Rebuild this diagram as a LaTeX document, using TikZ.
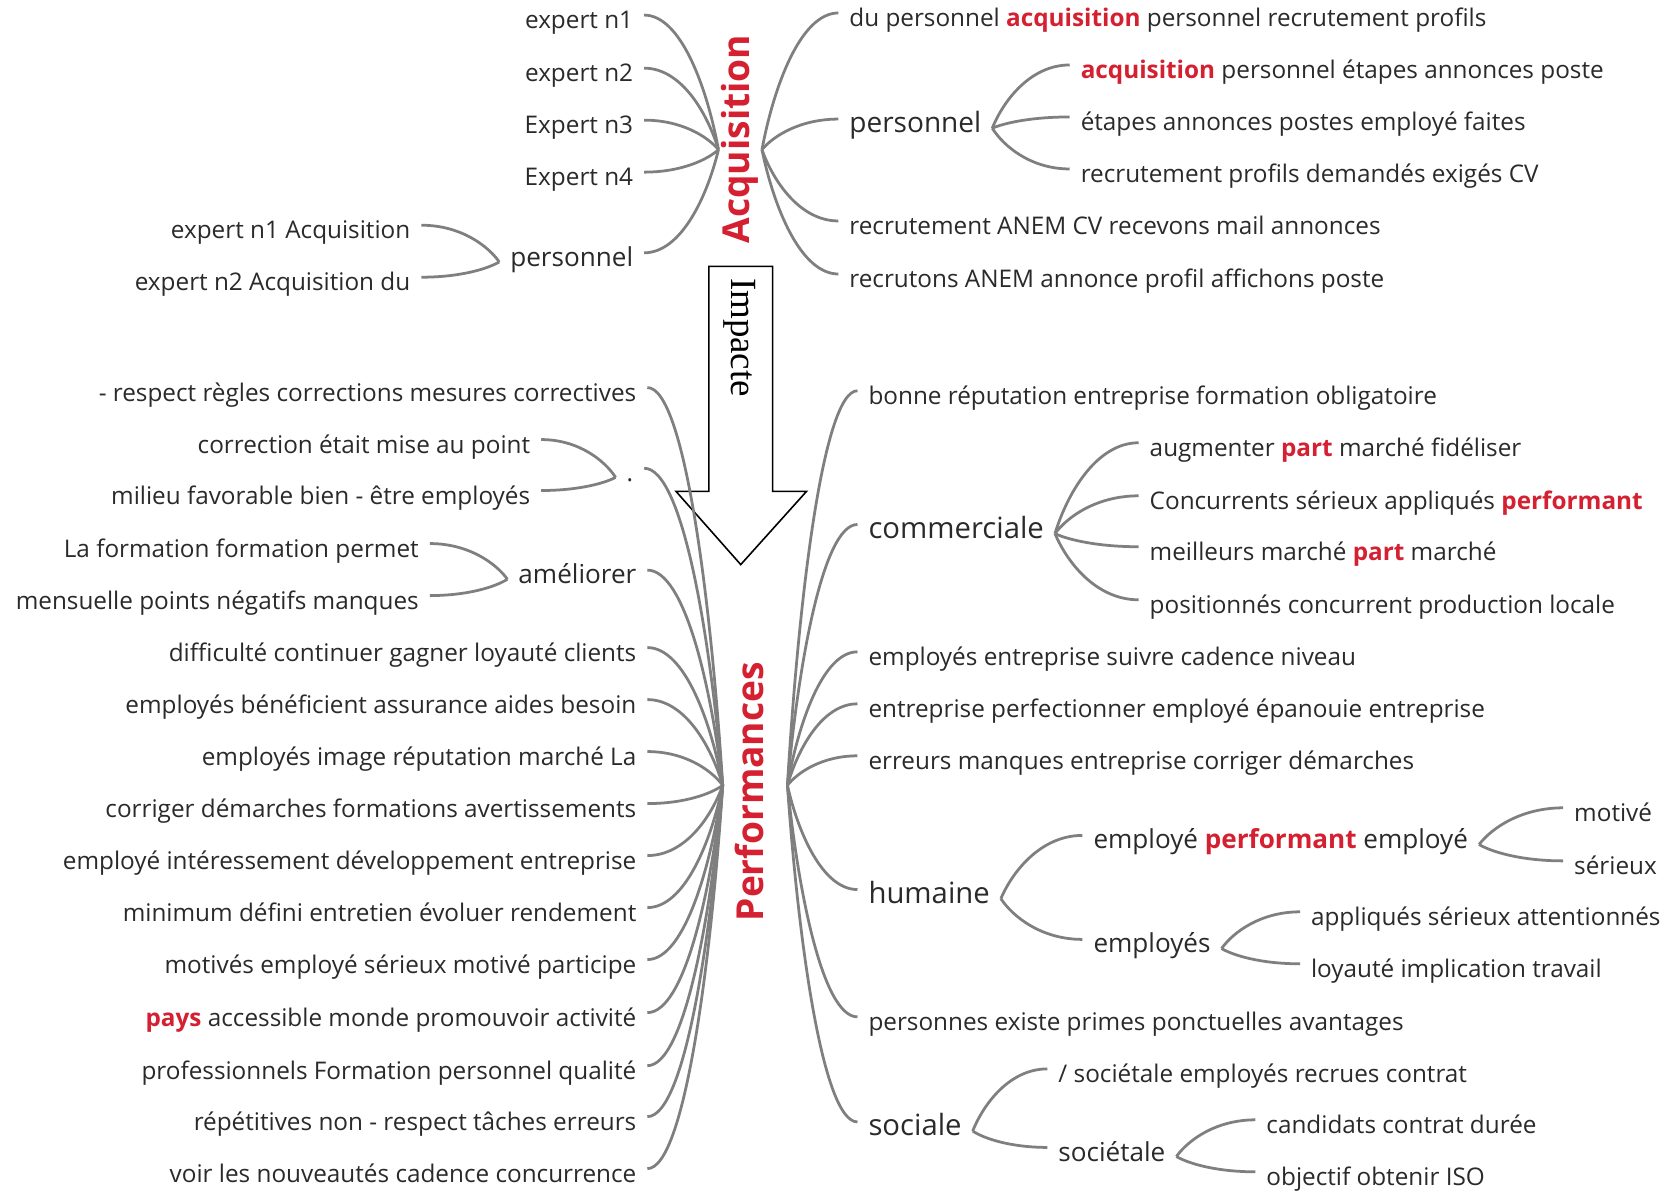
\documentclass[tikz,border=0pt]{standalone}
\usepackage{fontspec}
\setmainfont{Open Sans}
\newfontfamily\serifarrow{Liberation Serif}
\usetikzlibrary{calc}
\definecolor{lc}{HTML}{7F7F7F}
\definecolor{txt}{HTML}{2A2A2A}
\definecolor{red1}{HTML}{D42030}
\newcommand\hl[1]{\textcolor{red1}{\textbf{#1}}}
% curved branch: horizontal tail at the label, steep entry at the hub
\newcommand\lnk[2]{\draw[conn] let \p1=(#1), \p2=(#2) in
  (\p1) .. controls ({0.5*\x1+0.5*\x2},\y1) and ({0.85*\x2+0.15*\x1},{0.55*\y2+0.45*\y1}) .. (\p2);}
\tikzset{
  lbl/.style={inner xsep=5pt, inner ysep=0pt, text height=0.62em, text depth=0.2em, text=txt},
  leaf/.style={lbl, font=\fontsize{11.45}{13}\selectfont},
  mid/.style={lbl, font=\fontsize{12.3}{14}\selectfont},
  top/.style={lbl, font=\fontsize{13.8}{16}\selectfont},
  L/.style={anchor=base east},
  R/.style={anchor=base west},
  conn/.style={draw=lc, line width=1.3pt},
  hubtext/.style={font=\bfseries\fontsize{17.5}{20}\selectfont, text=red1, rotate=90, inner sep=1pt},
}
\begin{document}
\begin{tikzpicture}[x=0.5pt, y=-0.5pt]
\useasboundingbox (0,0) rectangle (1568,1131);
\clip (0,0) rectangle (1568,1131);
\fill[white] (0,0) rectangle (1568,1131);

% ---------- Acquisition ----------
\node[hubtext] (acq) at (697,131) {Acquisition};
\coordinate (aL) at (677,141);
\coordinate (aR) at (718,141);

\node[leaf,L] (e1) at (607,27) {expert n1};
\node[leaf,L] (e2) at (607,77) {expert n2};
\node[leaf,L] (e3) at (607,126) {Expert n3};
\node[leaf,L] (e4) at (607,175) {Expert n4};
\node[mid,L] (pl) at (607,251) {personnel};
\node[leaf,L] (pl1) at (397,225) {expert n1 Acquisition};
\node[leaf,L] (pl2) at (397,274) {expert n2 Acquisition du};

\foreach \k in {e1,e2,e3,e4,pl} {\lnk{\k.north east}{aL}}
\lnk{pl1.north east}{pl.west}
\lnk{pl2.north east}{pl.west}

\node[leaf,R] (r1) at (790,25) {du personnel \hl{acquisition} personnel recrutement profils};
\node[top,R,font=\fontsize{13.2}{16}\selectfont] (pr) at (790,125) {personnel};
\node[leaf,R] (pr1) at (1008,74) {\hl{acquisition} personnel étapes annonces poste};
\node[leaf,R] (pr2) at (1008,123) {étapes annonces postes employé faites};
\node[leaf,R] (pr3) at (1008,172) {recrutement profils demandés exigés CV};
\node[leaf,R] (r3) at (790,221) {recrutement ANEM CV recevons mail annonces};
\node[leaf,R] (r4) at (790,271) {recrutons ANEM annonce profil affichons poste};

\foreach \k in {r1,pr,r3,r4} {\lnk{\k.north west}{aR}}
\foreach \k in {pr1,pr2,pr3} {\lnk{\k.north west}{pr.east}}

% ---------- Impact arrow ----------
\draw[line width=0.75pt, fill=white] (668,251) -- (728,251) -- (728,463) -- (760,463)
  -- (698,532) -- (637,463) -- (668,463) -- cycle;
\node[rotate=-90, font=\serifarrow\fontsize{17.4}{20}\selectfont, inner sep=0pt] (imp) at (697,318) {Impacte};

% ---------- Performances ----------
\node[hubtext] (perf) at (706,746) {Performances};
\coordinate (pL) at (681,740);
\coordinate (pR) at (742,740);

\node[leaf,L] (q1) at (610,378) {- respect règles corrections mesures correctives};
\node[leaf,L] (qd) at (607,454) {.};
\node[leaf,L] (qd1) at (510,427) {correction était mise au point};
\node[leaf,L] (qd2) at (510,475) {milieu favorable bien - être employés};
\node[mid,L] (qa) at (610,550) {améliorer};
\node[leaf,L] (qa1) at (405,525) {La formation formation permet};
\node[leaf,L] (qa2) at (405,574) {mensuelle points négatifs manques};
\node[leaf,L] (q4) at (610,623) {difficulté continuer gagner loyauté clients};
\node[leaf,L] (q5) at (610,672) {employés bénéficient assurance aides besoin};
\node[leaf,L] (q6) at (610,721) {employés image réputation marché La};
\node[leaf,L] (q7) at (610,770) {corriger démarches formations avertissements};
\node[leaf,L] (q8) at (610,819) {employé intéressement développement entreprise};
\node[leaf,L] (q9) at (610,868) {minimum défini entretien évoluer rendement};
\node[leaf,L] (q10) at (610,917) {motivés employé sérieux motivé participe};
\node[leaf,L] (q11) at (610,967) {\hl{pays} accessible monde promouvoir activité};
\node[leaf,L] (q12) at (610,1017) {professionnels Formation personnel qualité};
\node[leaf,L] (q13) at (610,1065) {répétitives non - respect tâches erreurs};
\node[leaf,L] (q14) at (610,1114) {voir les nouveautés cadence concurrence};

\foreach \k in {q1,qd,qa,q4,q5,q6,q7,q8,q9,q10,q11,q12,q13,q14} {\lnk{\k.north east}{pL}}
\lnk{qd1.north east}{qd.west}
\lnk{qd2.north east}{qd.west}
\lnk{qa1.north east}{qa.west}
\lnk{qa2.north east}{qa.west}

\node[leaf,R] (s1) at (808,381) {bonne réputation entreprise formation obligatoire};
\node[top,R] (sc) at (808,507) {commerciale};
\node[leaf,R] (sc1) at (1073,430) {augmenter \hl{part} marché fidéliser};
\node[leaf,R] (sc2) at (1073,480) {Concurrents sérieux appliqués \hl{performant}};
\node[leaf,R] (sc3) at (1073,528) {meilleurs marché \hl{part} marché};
\node[leaf,R] (sc4) at (1073,578) {positionnés concurrent production locale};
\node[leaf,R] (s3) at (808,627) {employés entreprise suivre cadence niveau};
\node[leaf,R] (s4) at (808,676) {entreprise perfectionner employé épanouie entreprise};
\node[leaf,R] (s5) at (808,725) {erreurs manques entreprise corriger démarches};
\node[top,R] (sh) at (808,851) {humaine};
\node[mid,R] (sh1) at (1020,800) {employé \hl{performant} employé};
\node[leaf,R] (sh11) at (1473,774) {motivé};
\node[leaf,R] (sh12) at (1473,824) {sérieux};
\node[mid,R] (sh2) at (1020,898) {employés};
\node[leaf,R] (sh21) at (1225,872) {appliqués sérieux attentionnés};
\node[leaf,R] (sh22) at (1225,921) {loyauté implication travail};
\node[leaf,R] (s7) at (808,971) {personnes existe primes ponctuelles avantages};
\node[top,R] (ss) at (808,1070) {sociale};
\node[leaf,R] (ss1) at (987,1020) {/ sociétale employés recrues contrat};
\node[mid,R] (ss2) at (987,1094) {sociétale};
\node[leaf,R] (ss21) at (1183,1068) {candidats contrat durée};
\node[leaf,R] (ss22) at (1183,1117) {objectif obtenir ISO};

\foreach \k in {s1,sc,s3,s4,s5,sh,s7,ss} {\lnk{\k.north west}{pR}}
\foreach \k in {sc1,sc2,sc3,sc4} {\lnk{\k.north west}{sc.east}}
\foreach \k in {sh1,sh2} {\lnk{\k.north west}{sh.east}}
\foreach \k in {sh11,sh12} {\lnk{\k.north west}{sh1.east}}
\foreach \k in {sh21,sh22} {\lnk{\k.north west}{sh2.east}}
\foreach \k in {ss1,ss2} {\lnk{\k.north west}{ss.east}}
\foreach \k in {ss21,ss22} {\lnk{\k.north west}{ss2.east}}
\end{tikzpicture}
\end{document}
